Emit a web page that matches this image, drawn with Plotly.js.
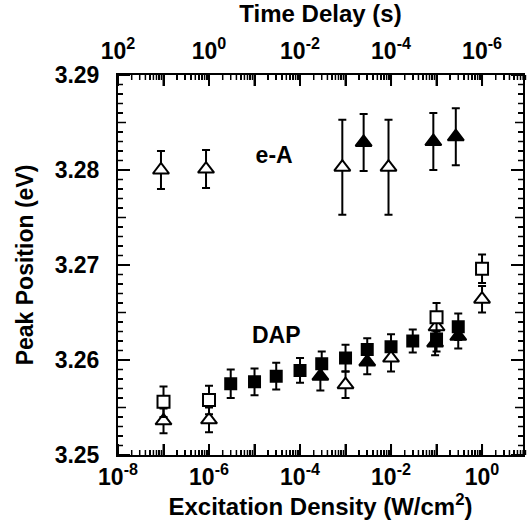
<!DOCTYPE html>
<html>
<head>
<meta charset="utf-8">
<script src="https://cdn.plot.ly/plotly-3.0.1.min.js"></script>
<style>html,body{margin:0;padding:0;background:#fff;}#chart{width:528px;height:527px;}</style>
</head>
<body>
<div id="chart"></div>
<script>
// ---- data ----
// DAP, open squares
const dapOpenSqX = [1e-7, 1e-6, 0.1, 1.0];
const dapOpenSqY = [3.2556, 3.2558, 3.2645, 3.2696];
const dapOpenSqErr = [0.0016, 0.0015, 0.0015, 0.0015];
// DAP, open triangles
const dapOpenTriX = [1e-7, 1e-6, 1e-3, 1e-2, 0.1, 1.0];
const dapOpenTriY = [3.2536, 3.2537, 3.2574, 3.2602, 3.2635, 3.2664];
const dapOpenTriErr = [0.0013, 0.0013, 0.0014, 0.0014, 0.0013, 0.0014];
// DAP, filled squares
const dapFilledSqX = [3e-6, 1e-5, 3e-5, 1e-4, 3e-4, 1e-3, 3e-3, 1e-2, 3e-2, 0.1, 0.3];
const dapFilledSqY = [3.2575, 3.2577, 3.2583, 3.2589, 3.2596, 3.2602, 3.2611, 3.2614, 3.2620, 3.2622, 3.2635];
const dapFilledSqErr = [0.0015, 0.0014, 0.0014, 0.0013, 0.0013, 0.0014, 0.0012, 0.0013, 0.0012, 0.0013, 0.0014];
// DAP, filled triangles
const dapFilledTriX = [2.8e-4, 3e-3, 0.093, 0.3];
const dapFilledTriY = [3.2583, 3.2598, 3.2618, 3.2625];
const dapFilledTriErr = [0.0015, 0.0013, 0.0013, 0.0013];
// e-A, open triangles
const eaOpenTriX = [8.8e-8, 8.6e-7, 8.5e-4, 8.8e-3];
const eaOpenTriY = [3.2800, 3.2801, 3.2803, 3.2803];
const eaOpenTriErr = [0.0020, 0.0020, 0.0050, 0.0050];
// e-A, filled triangles
const eaFilledTriX = [2.5e-3, 0.085, 0.265];
const eaFilledTriY = [3.2829, 3.2830, 3.2835];
const eaFilledTriErr = [0.0030, 0.0030, 0.0030];
// in-plot labels
const labelText = ['e-A', 'DAP'];
const labelX = [2.7e-5, 3.0e-5];
const labelY = [3.2813, 3.2624];

// ---- axis ticks and labels ----
const X_RANGE = [-8, 0.9];
const Y_RANGE = [3.25, 3.29];
const decadeTickVals = [1e-8, 1e-7, 1e-6, 1e-5, 1e-4, 1e-3, 1e-2, 1e-1, 1e0];
const bottomLabelVals = [1e-8, 1e-6, 1e-4, 1e-2, 1e0];
const bottomLabelText = ['10<sup>-8</sup>', '10<sup>-6</sup>', '10<sup>-4</sup>', '10<sup>-2</sup>', '10<sup>0</sup>'];
const topLabelVals = [1e2, 1e0, 1e-2, 1e-4, 1e-6];
const topLabelText = ['10<sup>2</sup>', '10<sup>0</sup>', '10<sup>-2</sup>', '10<sup>-4</sup>', '10<sup>-6</sup>'];
const yTickVals = [3.25, 3.26, 3.27, 3.28, 3.29];
const yTickText = ['3.25', '3.26', '3.27', '3.28', '3.29'];
const yMidTickVals = [3.255, 3.265, 3.275, 3.285];

const minorX = [];
for (let e = -8; e <= 0; e++) for (let m = 2; m <= 9; m++) minorX.push(m * Math.pow(10, e));
const minorY = [];
for (let k = 1; k < 40; k++) if (k % 5 !== 0) minorY.push(3.25 + k * 0.001);

function series(x, y, err, symbol, fill, size) {
  return {
    x: x, y: y, type: 'scatter', mode: 'markers', showlegend: false,
    marker: {symbol: symbol, size: size, color: fill, line: {color: '#000', width: 2}},
    error_y: {type: 'data', array: err, visible: true, color: '#000', thickness: 2, width: 4}
  };
}

const FONT = 'Liberation Sans, Arial, Helvetica, sans-serif';
const CLEAR = 'rgba(0,0,0,0)';

const traces = [
  series(dapFilledSqX, dapFilledSqY, dapFilledSqErr, 'square', '#000', 11),
  series(dapFilledTriX, dapFilledTriY, dapFilledTriErr, 'triangle-up', '#000', 14),
  series(dapOpenTriX, dapOpenTriY, dapOpenTriErr, 'triangle-up', '#fff', 14),
  series(dapOpenSqX, dapOpenSqY, dapOpenSqErr, 'square', '#fff', 12),
  series(eaOpenTriX, eaOpenTriY, eaOpenTriErr, 'triangle-up', '#fff', 14),
  series(eaFilledTriX, eaFilledTriY, eaFilledTriErr, 'triangle-up', '#000', 14),
  {x: labelX, y: labelY, text: labelText, type: 'scatter', mode: 'text', textposition: 'middle center',
   textfont: {size: 23, family: FONT, weight: 700, color: '#000'}, showlegend: false, hoverinfo: 'skip'},
  // empty traces so the label axes are drawn
  {x: [], y: [], xaxis: 'x2', yaxis: 'y2', type: 'scatter', mode: 'markers', showlegend: false, hoverinfo: 'skip'},
  {x: [], y: [], xaxis: 'x3', yaxis: 'y', type: 'scatter', mode: 'markers', showlegend: false, hoverinfo: 'skip'}
];

// tick marks (inside, on all four sides) as paper-referenced line shapes
const PW = 528 - 118 - 5, PH = 527 - 75 - 72;
const xFrac = v => (Math.log10(v) - X_RANGE[0]) / (X_RANGE[1] - X_RANGE[0]);
const yFrac = v => (v - Y_RANGE[0]) / (Y_RANGE[1] - Y_RANGE[0]);
const shapes = [];
function xTick(v, len, w) {
  const f = xFrac(v), l = len / PH;
  shapes.push({type: 'line', xref: 'paper', yref: 'paper', x0: f, x1: f, y0: 0, y1: l, line: {color: '#000', width: w}, layer: 'above'});
  shapes.push({type: 'line', xref: 'paper', yref: 'paper', x0: f, x1: f, y0: 1, y1: 1 - l, line: {color: '#000', width: w}, layer: 'above'});
}
function yTick(v, len, w) {
  const f = yFrac(v), l = len / PW;
  shapes.push({type: 'line', xref: 'paper', yref: 'paper', x0: 0, x1: l, y0: f, y1: f, line: {color: '#000', width: w}, layer: 'above'});
  shapes.push({type: 'line', xref: 'paper', yref: 'paper', x0: 1, x1: 1 - l, y0: f, y1: f, line: {color: '#000', width: w}, layer: 'above'});
}
decadeTickVals.forEach(v => xTick(v, 11, 2));
minorX.forEach(v => xTick(v, 5, 1.5));
yTickVals.forEach(v => yTick(v, 12, 2));
yMidTickVals.forEach(v => yTick(v, 8, 1.5));
minorY.forEach(v => yTick(v, 5, 1.5));

const layout = {
  width: 528, height: 527,
  margin: {l: 118, r: 5, t: 75, b: 72},
  paper_bgcolor: '#fff', plot_bgcolor: CLEAR,
  font: {family: FONT, size: 23, color: '#000', weight: 700},
  showlegend: false,
  shapes: shapes,
  // bottom axis: frame + ticks (mirrored to the top)
  xaxis: {
    type: 'log', range: X_RANGE,
    tickmode: 'array', tickvals: decadeTickVals, showticklabels: false,
    ticks: 'inside', ticklen: 11, tickwidth: 2, tickcolor: '#000',
    showline: true, linewidth: 2, linecolor: '#000', mirror: 'ticks',
    showgrid: false, zeroline: false,
    minor: {tickmode: 'array', tickvals: minorX, ticks: 'inside', ticklen: 5, tickwidth: 1.5, tickcolor: '#000', showgrid: false}
  },
  // bottom labels + title
  xaxis3: {
    type: 'log', range: X_RANGE, overlaying: 'x', side: 'bottom', anchor: 'y',
    tickmode: 'array', tickvals: bottomLabelVals, ticktext: bottomLabelText,
    ticks: 'outside', ticklen: 1, tickcolor: CLEAR,
    showline: false, showgrid: false, zeroline: false,
    title: {text: 'Excitation Density (W/cm<sup>2</sup>)', font: {size: 24, family: FONT, weight: 700}, standoff: 4}
  },
  // top axis: time delay labels + title
  xaxis2: {
    type: 'log', range: [2, -6.9], overlaying: 'x', side: 'top', anchor: 'y',
    tickmode: 'array', tickvals: topLabelVals, ticktext: topLabelText,
    ticks: 'outside', ticklen: 6, tickcolor: CLEAR,
    showline: false, showgrid: false, zeroline: false,
    title: {text: 'Time Delay (s)', font: {size: 24, family: FONT, weight: 700}, standoff: 4}
  },
  // left axis: frame + major/minor ticks (mirrored to the right)
  yaxis: {
    range: Y_RANGE,
    tickmode: 'array', tickvals: yTickVals, showticklabels: false,
    ticks: 'inside', ticklen: 12, tickwidth: 2, tickcolor: '#000',
    showline: true, linewidth: 2, linecolor: '#000', mirror: 'ticks',
    showgrid: false, zeroline: false,
    minor: {dtick: 0.001, ticks: 'inside', ticklen: 5, tickwidth: 1.5, tickcolor: '#000', showgrid: false}
  },
  // left labels + title
  yaxis2: {
    range: Y_RANGE, overlaying: 'y', side: 'left', anchor: 'x',
    tickmode: 'array', tickvals: yTickVals, ticktext: yTickText,
    ticks: 'outside', ticklen: 13, tickcolor: CLEAR,
    showline: false, showgrid: false, zeroline: false,
    title: {text: 'Peak Position (eV)', font: {size: 23, family: FONT, weight: 700}, standoff: 14}
  }
};

Plotly.newPlot('chart', traces, layout, {displayModeBar: false, staticPlot: true});
</script>
</body>
</html>
